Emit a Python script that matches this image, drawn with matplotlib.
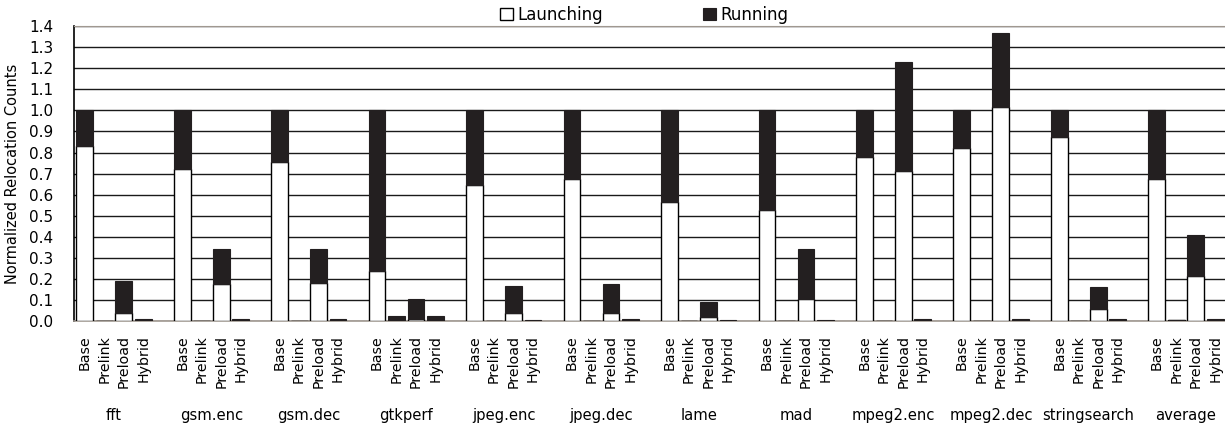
import numpy as np
import matplotlib.pyplot as plt

# benchmarks and configurations
benchmarks = ['fft', 'gsm.enc', 'gsm.dec', 'gtkperf', 'jpeg.enc', 'jpeg.dec',
              'lame', 'mad', 'mpeg2.enc', 'mpeg2.dec', 'stringsearch', 'average']
configs = ['Base', 'Prelink', 'Preload', 'Hybrid']

# launching part, per benchmark: Base, Prelink, Preload, Hybrid
launching = [
    [0.83, 0.0, 0.038, 0.0],
    [0.72, 0.0, 0.174, 0.0],
    [0.755, 0.0, 0.18, 0.0],
    [0.237, 0.0, 0.01, 0.0],
    [0.645, 0.0, 0.036, 0.0],
    [0.672, 0.0, 0.04, 0.0],
    [0.564, 0.0, 0.02, 0.0],
    [0.529, 0.0, 0.104, 0.0],
    [0.777, 0.0, 0.71, 0.0],
    [0.82, 0.0, 1.017, 0.0],
    [0.873, 0.0, 0.055, 0.0],
    [0.673, 0.003, 0.216, 0.0],
]
# total height (launching + running)
total = [
    [1.0, 0.0, 0.19, 0.01],
    [1.0, 0.0, 0.34, 0.008],
    [1.0, 0.0, 0.343, 0.008],
    [1.0, 0.024, 0.103, 0.024],
    [1.0, 0.0, 0.166, 0.007],
    [1.0, 0.0, 0.174, 0.008],
    [1.0, 0.0, 0.092, 0.007],
    [1.0, 0.0, 0.34, 0.007],
    [1.0, 0.0, 1.232, 0.01],
    [1.0, 0.0, 1.366, 0.01],
    [1.0, 0.0, 0.163, 0.01],
    [1.0, 0.005, 0.409, 0.01],
]

launch = np.array(launching)
run = np.array(total) - launch

fig = plt.figure(figsize=(12.25, 4.29), dpi=100)
ax = fig.add_axes([0.0604, 0.2517, 0.9396, 0.6873])

pos = np.array([[g * 5 + i for i in range(4)] for g in range(len(benchmarks))])
x = pos.ravel()
w = 0.86
dark = '#231f20'
ax.bar(x, launch.ravel(), w, color='white', edgecolor='black', linewidth=1.0,
       label='Launching', zorder=3)
ax.bar(x, run.ravel(), w, bottom=launch.ravel(), color=dark, edgecolor=dark,
       linewidth=0.8, label='Running', zorder=3)

ax.set_xlim(-0.55, 58.5)
ax.set_ylim(0, 1.4)
ticks = np.arange(0, 1.41, 0.1)
ax.set_yticks(ticks)
ax.set_yticklabels([f'{v:.1f}' for v in ticks], fontsize=11)
ax.yaxis.grid(True, color='#1a1a1a', linewidth=1.0, zorder=0)
ax.set_ylabel('Normalized Relocation Counts', fontsize=10.5)
ax.yaxis.set_label_coords(-0.047, 0.5)
ax.tick_params(axis='y', length=0, pad=15)

ax.set_xticks(x)
ax.set_xticklabels(configs * len(benchmarks), rotation=90, fontsize=10.2)
ax.tick_params(axis='x', length=0, pad=10)

for g, name in enumerate(benchmarks):
    ax.text(pos[g].mean(), -0.32, name, transform=ax.get_xaxis_transform(),
            ha='center', va='center', fontsize=10.6)

ax.spines['left'].set_color('black')
ax.spines['left'].set_linewidth(1.2)
ax.spines['bottom'].set_color('#a09890')
ax.spines['bottom'].set_linewidth(1.2)
ax.spines['top'].set_color('#a09890')
ax.spines['right'].set_visible(False)

leg = fig.legend(loc='center left', bbox_to_anchor=(500 / 1225, 1 - 15 / 429),
                 ncol=2, frameon=False, fontsize=12, handlelength=0.75,
                 handleheight=0.75, handletextpad=0.3, columnspacing=6.0,
                 borderpad=0.0, borderaxespad=0.0)

fig.savefig('out.png', dpi=100)
